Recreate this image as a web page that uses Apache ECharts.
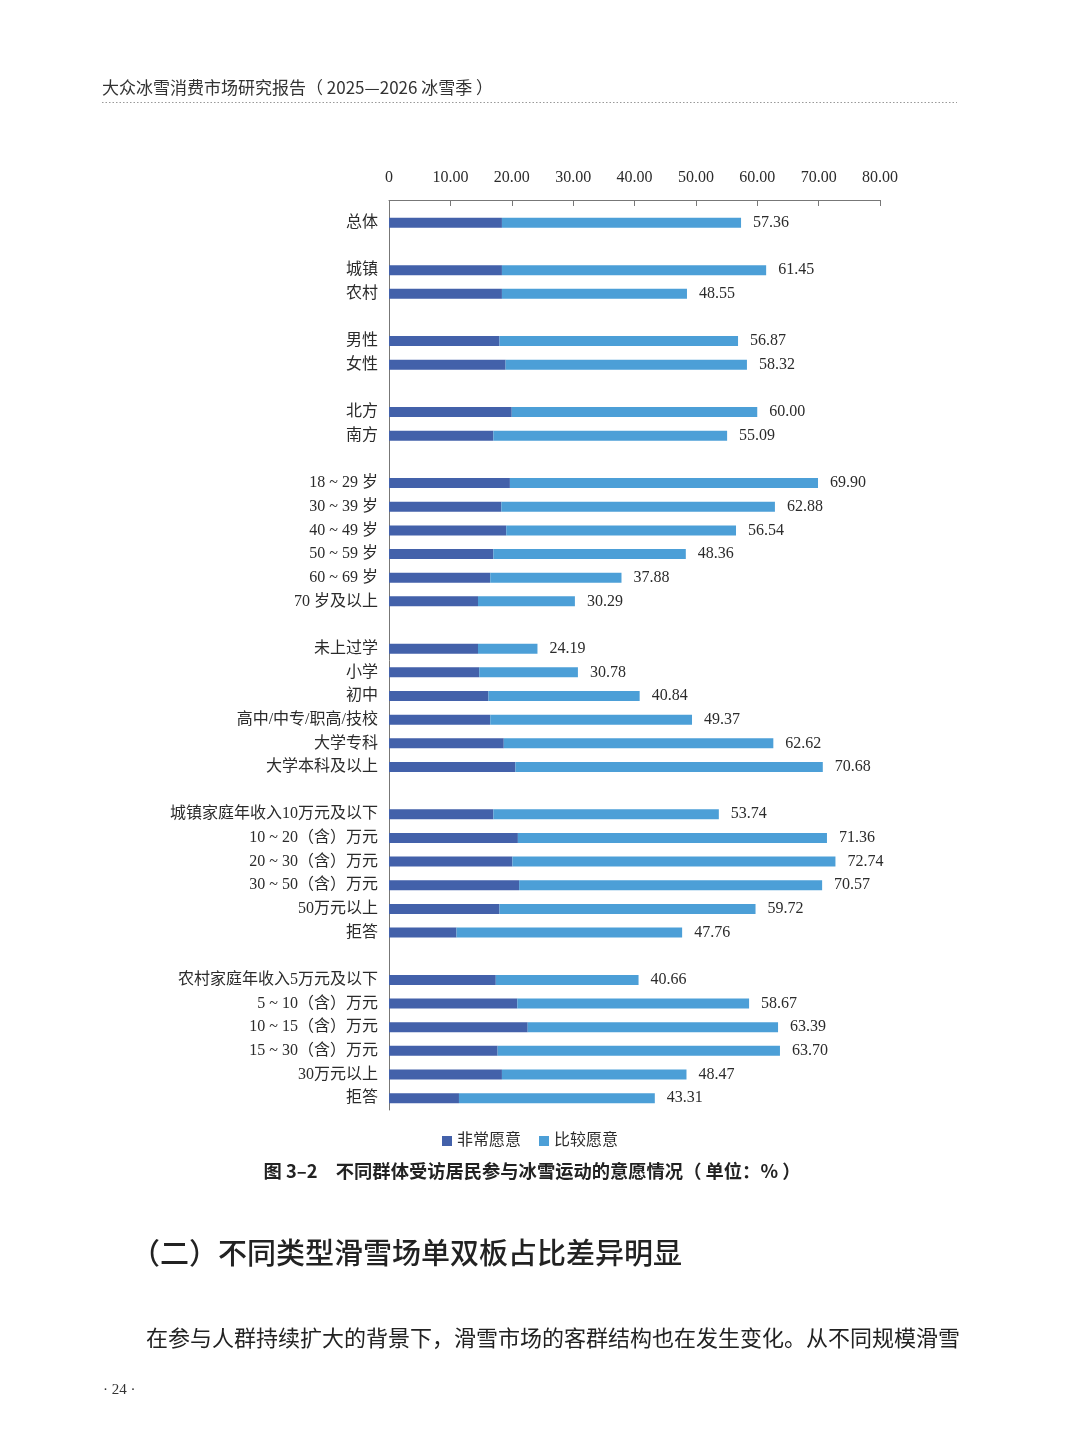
<!DOCTYPE html>
<html>
<head>
<meta charset="utf-8">
<script src="https://cdn.jsdelivr.net/npm/echarts@6/dist/echarts.min.js"></script>
<style>
  html, body { margin: 0; padding: 0; background: #fff; }
  #chart { width: 1080px; height: 1453px; }
</style>
</head>
<body>
<div id="chart"></div>
<script>
// '' marks an empty spacer row between groups
const categories = [
    '总体', '',
    '城镇', '农村', '',
    '男性', '女性', '',
    '北方', '南方', '',
    '18 ~ 29 岁', '30 ~ 39 岁', '40 ~ 49 岁', '50 ~ 59 岁', '60 ~ 69 岁', '70 岁及以上', '',
    '未上过学', '小学', '初中', '高中/中专/职高/技校', '大学专科', '大学本科及以上', '',
    '城镇家庭年收入10万元及以下', '10 ~ 20（含）万元', '20 ~ 30（含）万元', '30 ~ 50（含）万元', '50万元以上', '拒答', '',
    '农村家庭年收入5万元及以下', '5 ~ 10（含）万元', '10 ~ 15（含）万元', '15 ~ 30（含）万元', '30万元以上', '拒答'
];

// 非常愿意 (dark segment)
const veryWilling = [
    18.4, null,
    18.4, 18.4, null,
    18.0, 19.0, null,
    20.0, 17.0, null,
    19.7, 18.3, 19.1, 17.0, 16.5, 14.5, null,
    14.5, 14.7, 16.2, 16.5, 18.7, 20.6, null,
    17.0, 21.0, 20.1, 21.2, 18.0, 11.0, null,
    17.4, 20.9, 22.6, 17.7, 18.4, 11.4
];

// total of 非常愿意 + 比较愿意 (printed labels)
const totals = [
    57.36, null,
    61.45, 48.55, null,
    56.87, 58.32, null,
    60.00, 55.09, null,
    69.90, 62.88, 56.54, 48.36, 37.88, 30.29, null,
    24.19, 30.78, 40.84, 49.37, 62.62, 70.68, null,
    53.74, 71.36, 72.74, 70.57, 59.72, 47.76, null,
    40.66, 58.67, 63.39, 63.70, 48.47, 43.31
];

const xTicks = [0, 10, 20, 30, 40, 50, 60, 70, 80];
const seriesNames = ['非常愿意', '比较愿意'];

const DARK = '#4361aa';
const LIGHT = '#4c9fd7';
const TEXT = '#2b2b2b';
const SERIF = '"Liberation Serif", "Noto Sans CJK SC", serif';
const SANS = '"Noto Sans CJK SC", sans-serif';

const fairlyWilling = totals.map((t, i) => t == null ? null : +(t - veryWilling[i]).toFixed(2));

const pageText = (x, y, text, font, extra) => ({
    type: 'text',
    x: x,
    y: y,
    style: Object.assign({
        text: text,
        fill: TEXT,
        font: font,
        verticalAlign: 'middle'
    }, extra || {})
});

const loadChart = () => {
    const chart = echarts.init(document.getElementById('chart'));

    const option = {
        backgroundColor: '#fff',
        animation: false,
        legend: {
            data: seriesNames,
            top: 1128,
            left: 437,
            itemWidth: 10,
            itemHeight: 10,
            itemGap: 18,
            icon: 'rect',
            textStyle: { fontFamily: SERIF, fontSize: 16, color: TEXT, padding: [0, 0, 0, 0] }
        },
        grid: {
            left: 389,
            right: 200,
            top: 211,
            height: 899
        },
        xAxis: {
            type: 'value',
            position: 'top',
            offset: 11,
            min: xTicks[0],
            max: xTicks[xTicks.length - 1],
            interval: 10,
            axisLine: { show: true, lineStyle: { color: '#777', width: 1 } },
            axisTick: { show: true, inside: true, length: 6, lineStyle: { color: '#777' } },
            splitLine: { show: false },
            axisLabel: {
                margin: 14,
                fontFamily: SERIF,
                fontSize: 16,
                color: TEXT,
                formatter: v => v === 0 ? '0' : v.toFixed(2)
            }
        },
        yAxis: {
            type: 'category',
            inverse: true,
            data: categories,
            axisLine: { show: true, lineStyle: { color: '#777', width: 1 } },
            axisTick: { show: false },
            axisLabel: {
                margin: 11,
                interval: 0,
                fontFamily: SERIF,
                fontSize: 16,
                color: TEXT
            }
        },
        series: [
            {
                name: seriesNames[0],
                type: 'bar',
                stack: 'total',
                barWidth: 10,
                itemStyle: { color: DARK },
                data: veryWilling
            },
            {
                name: seriesNames[1],
                type: 'bar',
                stack: 'total',
                barWidth: 10,
                itemStyle: { color: LIGHT },
                label: {
                    show: true,
                    position: 'right',
                    distance: 12,
                    fontFamily: SERIF,
                    fontSize: 16,
                    color: TEXT,
                    formatter: p => totals[p.dataIndex] == null ? '' : totals[p.dataIndex].toFixed(2)
                },
                data: fairlyWilling
            }
        ],
        graphic: [
            // join the top axis with the category axis line
            { type: 'line', shape: { x1: 389.5, y1: 200, x2: 389.5, y2: 211 }, style: { stroke: '#777', lineWidth: 1 } },
            pageText(102, 88, '大众冰雪消费市场研究报告（ 2025—2026 冰雪季 ）', '17px ' + SANS, { fill: '#333' }),
            { type: 'line', shape: { x1: 102, y1: 102.5, x2: 957, y2: 102.5 }, style: { stroke: '#999', lineWidth: 1, lineDash: [1.5, 2] } },
            pageText(532, 1171, '图 3–2　不同群体受访居民参与冰雪运动的意愿情况（ 单位：% ）', 'bold 18.3px ' + SANS, { align: 'center', fill: '#222' }),
            pageText(131, 1253, '（二）不同类型滑雪场单双板占比差异明显', '500 29px ' + SANS, { fill: '#222' }),
            pageText(146, 1338, '在参与人群持续扩大的背景下，滑雪市场的客群结构也在发生变化。从不同规模滑雪', '22px ' + SANS, { fill: '#222' }),
            pageText(103, 1390, '· 24 ·', '15px ' + SERIF, { fill: '#333' })
        ]
    };
    chart.setOption(option);
}

loadChart();
</script>
</body>
</html>
